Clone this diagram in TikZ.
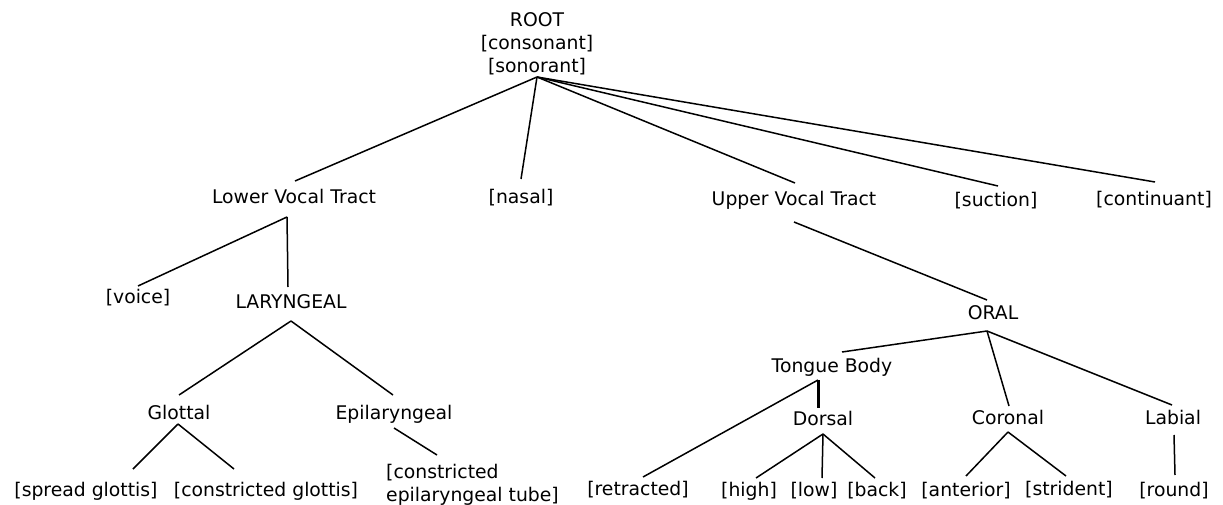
\documentclass[tikz,border=0pt]{standalone}
\usepackage{fontspec}
\setmainfont{DejaVu Sans}
\begin{document}
\begin{tikzpicture}[x=1pt,y=-1pt,
  lbl/.style={inner sep=0pt,anchor=base,font=\fontsize{18.8}{23}\selectfont},
  edge/.style={line width=1.5pt,black},
  thickedge/.style={line width=3pt,black}]
\useasboundingbox (0,0) rectangle (1223,505);
% nodes (anchor base = baseline of the last line)
\node[lbl,align=center] (root) at (537,72.5) {ROOT\\{}{[consonant]}\\{}{[sonorant]}};
\node[lbl] (lvt) at (294,203.5) {Lower Vocal Tract};
\node[lbl] (nasal) at (521,203.5) {[nasal]};
\node[lbl] (uvt) at (794,205.5) {Upper Vocal Tract};
\node[lbl] (suction) at (996,206.5) {[suction]};
\node[lbl] (cont) at (1154,205.5) {[continuant]};
\node[lbl] (voice) at (138,303.5) {[voice]};
\node[lbl] (lar) at (291,308.5) {LARYNGEAL};
\node[lbl] (glottal) at (179,419.5) {Glottal};
\node[lbl] (epi) at (394,419.5) {Epilaryngeal};
\node[lbl] (spread) at (86,496.5) {[spread glottis]};
\node[lbl] (cg) at (266,496.5) {[constricted glottis]};
\node[lbl,align=left,anchor=base west] (cet) at (386,501.5) {[constricted\\{}epilaryngeal tube]};
\node[lbl] (oral) at (993,319.5) {ORAL};
\node[lbl] (tb) at (832,372.5) {Tongue Body};
\node[lbl] (dorsal) at (823,425.5) {Dorsal};
\node[lbl] (coronal) at (1008,424.5) {Coronal};
\node[lbl] (labial) at (1173,424.5) {Labial};
\node[lbl] (retracted) at (638,495.5) {[retracted]};
\node[lbl] (high) at (749,496.5) {[high]};
\node[lbl] (low) at (814,496.5) {[low]};
\node[lbl] (back) at (877,496.5) {[back]};
\node[lbl] (anterior) at (966,496.5) {[anterior]};
\node[lbl] (strident) at (1069,495.5) {[strident]};
\node[lbl] (round) at (1174,496.5) {[round]};
% connector end points
\coordinate (root-b) at (537,77);
\coordinate (lvt-t) at (295,181);
\coordinate (lvt-b) at (287,217);
\coordinate (nasal-t) at (521,179);
\coordinate (uvt-t) at (795,183);
\coordinate (uvt-b) at (794,222);
\coordinate (suction-t) at (998,186);
\coordinate (cont-t) at (1155,182);
\coordinate (voice-t) at (138,286);
\coordinate (lar-t) at (288,287);
\coordinate (lar-b) at (291,321);
\coordinate (glottal-t) at (179,395);
\coordinate (glottal-b) at (178,424);
\coordinate (epi-t) at (393,395);
\coordinate (epi-b) at (394,428);
\coordinate (spread-t) at (133,469);
\coordinate (cg-t) at (234,469);
\coordinate (cet-t) at (437,455);
\coordinate (oral-t) at (987,300);
\coordinate (oral-b) at (987,331);
\coordinate (tb-t) at (842,352);
\coordinate (tb-b) at (818,380);
\coordinate (dorsal-t) at (818,408);
\coordinate (dorsal-b) at (823,434);
\coordinate (coronal-t) at (1009,406);
\coordinate (coronal-b) at (1008,432);
\coordinate (labial-t) at (1172,405);
\coordinate (labial-b) at (1174,435);
\coordinate (retracted-t) at (643,477);
\coordinate (high-t) at (756,478);
\coordinate (low-t) at (822,478);
\coordinate (back-t) at (875,478);
\coordinate (anterior-t) at (966,476);
\coordinate (strident-t) at (1066,476);
\coordinate (round-t) at (1175,475);
% connectors
\draw[edge] (root-b) -- (lvt-t);
\draw[edge] (root-b) -- (nasal-t);
\draw[edge] (root-b) -- (uvt-t);
\draw[edge] (root-b) -- (suction-t);
\draw[edge] (root-b) -- (cont-t);
\draw[edge] (lvt-b) -- (voice-t);
\draw[edge] (lvt-b) -- (lar-t);
\draw[edge] (lar-b) -- (glottal-t);
\draw[edge] (lar-b) -- (epi-t);
\draw[edge] (glottal-b) -- (spread-t);
\draw[edge] (glottal-b) -- (cg-t);
\draw[edge] (epi-b) -- (cet-t);
\draw[edge] (uvt-b) -- (oral-t);
\draw[edge] (oral-b) -- (tb-t);
\draw[edge] (oral-b) -- (coronal-t);
\draw[edge] (oral-b) -- (labial-t);
\draw[thickedge] (tb-b) -- (dorsal-t);
\draw[edge] (tb-b) -- (retracted-t);
\draw[edge] (dorsal-b) -- (high-t);
\draw[edge] (dorsal-b) -- (low-t);
\draw[edge] (dorsal-b) -- (back-t);
\draw[edge] (coronal-b) -- (anterior-t);
\draw[edge] (coronal-b) -- (strident-t);
\draw[edge] (labial-b) -- (round-t);
\end{tikzpicture}
\end{document}
